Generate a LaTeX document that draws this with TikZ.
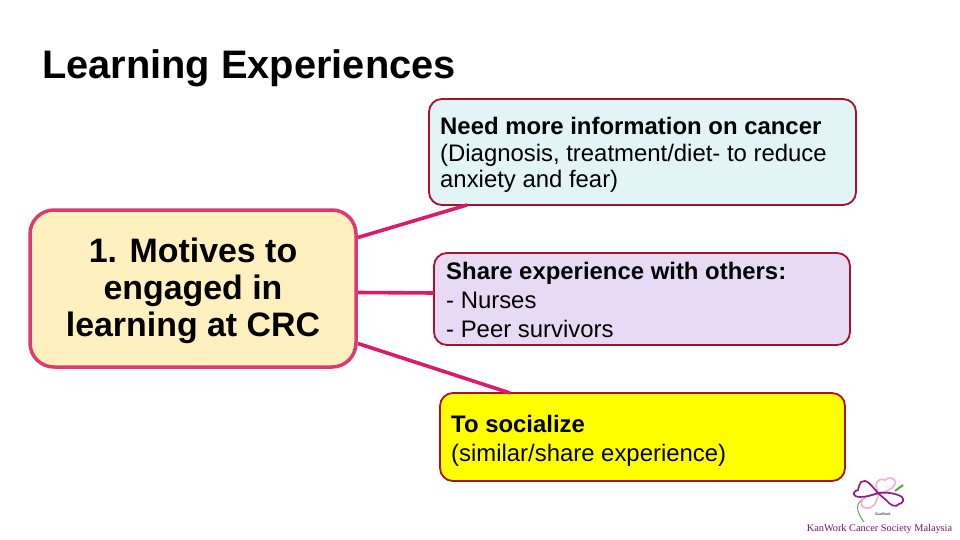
\documentclass[tikz,border=0pt]{standalone}
\usepackage{fontspec}
\setmainfont{Liberation Sans}
\newfontfamily\logofont{Liberation Serif}
\definecolor{cborder}{HTML}{A5122A}
\definecolor{pinkline}{HTML}{D81B6A}
\definecolor{mborder}{HTML}{DE3A70}
\definecolor{cream}{HTML}{FFF1BF}
\definecolor{cyanfill}{HTML}{E2F4F6}
\definecolor{lilacfill}{HTML}{E8DAF4}
\definecolor{pureyellow}{RGB}{255,255,0}
\definecolor{logopurple}{HTML}{8E1C8E}
\definecolor{logopink}{HTML}{EDB5D3}
\definecolor{logogreen}{HTML}{5E9E4A}
\tikzset{
  x=1pt,y=-1pt,
  box/.style={draw=cborder,line width=1.8pt,rounded corners=13pt,anchor=north west,inner sep=0pt,outer sep=0pt},
  lbl/.style={anchor=north west,inner sep=0pt,align=left,text=black},
  body/.style={font=\fontsize{23.9}{#1}\selectfont},
  link/.style={draw=pinkline,line width=3.6pt},
  petal/.style={draw=#1,line width=1.7pt,line join=round},
}
\begin{document}
\begin{tikzpicture}
\useasboundingbox (0,0) rectangle (960,540);
\fill[white] (0,0) rectangle (960,540);
\node[lbl,font=\fontsize{39.8}{44}\selectfont\bfseries] (title) at (42,49) {Learning Experiences};

\node[box,draw=mborder,fill=cream,line width=3.5pt,rounded corners=24pt,minimum width=326pt,minimum height=157pt] (m) at (30,210) {};
\node[align=center,inner sep=0pt,font=\fontsize{33.9}{37}\selectfont\bfseries] (mt) at (193,290.5) {1. Motives to\\engaged in\\learning at CRC};

\node[box,fill=cyanfill,minimum width=427pt,minimum height=106pt] (c1) at (429,99) {};
\node[lbl,body=26.5] (t1) at (440,117) {\textbf{Need more information on cancer}\\(Diagnosis, treatment/diet- to reduce\\anxiety and fear)};

\node[box,fill=lilacfill,minimum width=416pt,minimum height=92pt] (c2) at (434,253) {};
\node[lbl,body=29] (t2) at (446,262) {\textbf{Share experience with others:}\\- Nurses\\- Peer survivors};

\node[box,fill=pureyellow,minimum width=405pt,minimum height=88pt] (c3) at (440,393) {};
\node[lbl,body=29] (t3) at (451,415) {\textbf{To socialize}\\(similar/share experience)};

\draw[link] ([yshift=51pt,xshift=2pt]m.east) -- ([xshift=38pt]c1.south west);
\draw[link] ([yshift=-4pt,xshift=2pt]m.east) -- ([yshift=6pt]c2.west);
\draw[link] ([yshift=-55pt,xshift=2pt]m.east) -- ([xshift=70pt]c3.north west);

% logo
\draw[logogreen,line width=0.9pt] (866,497) .. controls (854,503) and (856,511) .. (864,522);
\draw[logogreen,line width=2pt] (895,491) -- (903,485);
\draw[petal=logopink] (878,493) .. controls (874,484) and (877,477) .. (885,480) .. controls (889,476) and (897,478) .. (895,484) .. controls (892,490) and (886,492) .. (878,493) -- cycle;
\draw[petal=logopink] (878,494) .. controls (877,503) and (873,509) .. (866,508) .. controls (859,507) and (860,500) .. (866,497) .. controls (870,495) and (874,494) .. (878,494) -- cycle;
\draw[petal=logopurple] (878,493) .. controls (871,485) and (866,478) .. (861,482) .. controls (859,484) and (859,487) .. (858,490) .. controls (851,492) and (853,497) .. (860,497) .. controls (866,497) and (873,495) .. (878,493) -- cycle;
\draw[petal=logopurple] (878,493) .. controls (886,492) and (896,493) .. (902,497) .. controls (905,500) and (902,504) .. (899,504) .. controls (896,508) and (890,505) .. (887,501) .. controls (884,498) and (881,496) .. (878,493) -- cycle;
\node[inner sep=0pt,font=\logofont\fontsize{4}{4}\selectfont] (lg) at (883,514) {KanWork};
\node[inner sep=0pt,text=logopurple!80!black,font=\logofont\fontsize{10.3}{10}\selectfont] (lt) at (879.5,529) {KanWork Cancer Society Malaysia};
\end{tikzpicture}
\end{document}
